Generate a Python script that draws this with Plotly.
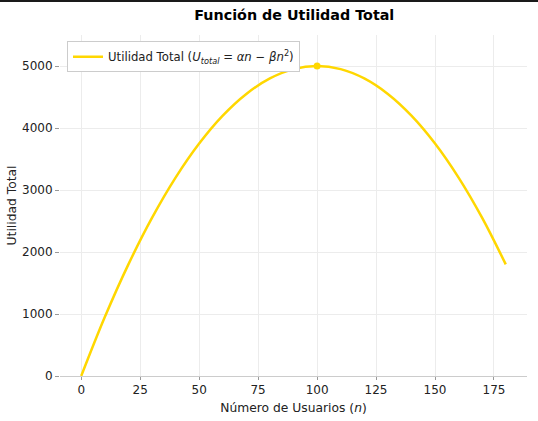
import plotly.graph_objects as go

# usuarios (n) y utilidad total
usuarios = [0, 10, 20, 30, 40, 50, 60, 70, 80, 90, 100, 110, 120, 130, 140, 150, 160, 170, 180]
utilidad = [0, 950, 1800, 2550, 3200, 3750, 4200, 4550, 4800, 4950, 5000, 4950, 4800, 4550, 4200, 3750, 3200, 2550, 1800]

# punto maximo
n_max = [100]
u_max = [5000]

x_ticks = [0, 25, 50, 75, 100, 125, 150, 175]
y_ticks = [0, 1000, 2000, 3000, 4000, 5000]

gold = '#FFD700'
font_name = 'DejaVu Sans'

data = [
    go.Scatter(x=usuarios, y=utilidad, mode='lines', line=dict(color=gold, width=2.5, shape='spline'),
               name='Utilidad Total (<i>U</i><sub><i>total</i></sub> = <i>αn</i> − <i>βn</i><sup>2</sup>)'),
    go.Scatter(x=n_max, y=u_max, mode='markers', marker=dict(color=gold, size=7), showlegend=False),
]

layout = go.Layout(
    width=538, height=421,
    margin=dict(l=60, r=11, t=35, b=45, autoexpand=False),
    paper_bgcolor='white', plot_bgcolor='white',
    font=dict(family=font_name, size=12, color='#222'),
    title=dict(text='<b>Función de Utilidad Total</b>', x=0.547, xanchor='center', y=0.964, yanchor='middle',
               font=dict(size=14.3, color='black')),
    xaxis=dict(range=[-9, 189], tickvals=x_ticks, showgrid=True, gridcolor='#ececec', gridwidth=1,
               zeroline=False, showline=True, linecolor='#cccccc', linewidth=1, automargin=False,
               ticks='outside', ticklen=3, tickcolor='#999',
               title=dict(text='Número de Usuarios (<i>n</i>)', standoff=6, font=dict(size=12.3))),
    yaxis=dict(range=[0, 5500], tickvals=y_ticks, showgrid=True, gridcolor='#ececec', gridwidth=1,
               zeroline=False, showline=False, ticks='outside', ticklen=4, tickcolor='#999', automargin=False,
               title=dict(text='Utilidad Total', standoff=2, font=dict(size=12.3))),
    legend=dict(x=0.015, y=0.982, xanchor='left', yanchor='top', bgcolor='white',
                bordercolor='#cccccc', borderwidth=1, font=dict(size=11.7)),
    shapes=[dict(type='rect', xref='paper', yref='paper', x0=-0.2, x1=1.1, y0=1.0968, y1=1.2,
                 fillcolor='#1a1a1a', line=dict(width=0))],
)

fig = go.Figure(data=data, layout=layout)
# quitar el margen por defecto del body para que la figura empiece en (0, 0)
fig.write_html('out.html', config={'displayModeBar': False},
               post_script="document.body.style.margin='0';")
